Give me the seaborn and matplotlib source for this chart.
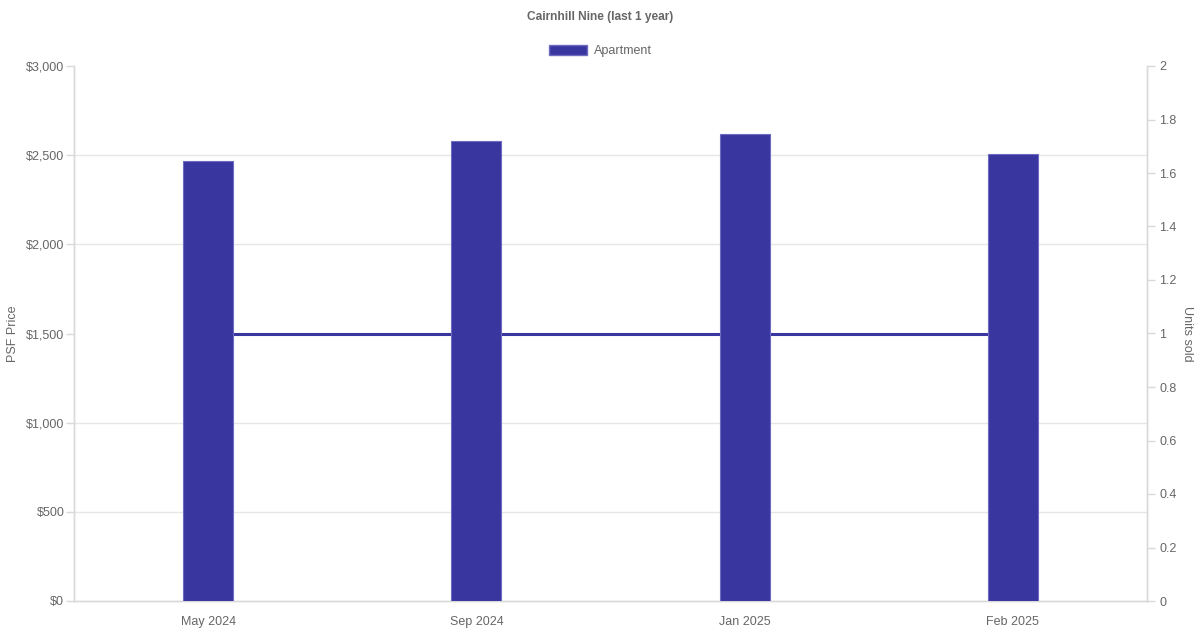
import matplotlib
matplotlib.use("Agg")
import matplotlib.pyplot as plt
import seaborn as sns
import numpy as np
import pandas as pd
from matplotlib.ticker import FuncFormatter, MultipleLocator, FixedLocator
from matplotlib.patches import Patch

months = ["May 2024", "Sep 2024", "Jan 2025", "Feb 2025"]
psf_price = [2465, 2581, 2619, 2508]
units_sold = [1, 1, 1, 1]
series_name = "Apartment"
title = "Cairnhill Nine (last 1 year)"

BAR = "#3a36a0"
TXT = "#666666"
GRID = "#e6e6e6"

sns.set_theme(style="white")
plt.rcParams["font.family"] = ["Liberation Sans", "DejaVu Sans"]

fig = plt.figure(figsize=(12, 6.3), dpi=100)
ax = fig.add_axes([74/1200, 1-601/630, (1147-74)/1200, (601-66)/630])
ax2 = ax.twinx()

df = pd.DataFrame({"month": months, "psf": psf_price, "units": units_sold})
sns.barplot(data=df, x="month", y="psf", color=BAR, saturation=1, width=0.186,
            edgecolor="#6e6bc0", linewidth=0.8, ax=ax, zorder=3)

sns.lineplot(x=np.arange(len(months)), y=df["units"], color=BAR, linewidth=2.2, ax=ax2, zorder=3)

ax.set_zorder(ax2.get_zorder() + 1)
ax.patch.set_visible(False)

ax.set_xlim(-0.5, len(months) - 0.5)
ax.set_ylim(0, 3000)
ax2.set_ylim(0, 2)
ax.yaxis.set_major_locator(MultipleLocator(500))
ax2.yaxis.set_major_locator(MultipleLocator(0.2))
ax.yaxis.set_major_formatter(FuncFormatter(lambda v, p: f"${v:,.0f}"))
ax2.yaxis.set_major_formatter(FuncFormatter(lambda v, p: f"{v:g}"))

# gridlines matching the left axis, drawn on the back axes so the line covers them
ax.grid(False)
ax2.yaxis.set_minor_locator(FixedLocator([v / 1500 for v in range(0, 3001, 500)]))
ax2.grid(which="minor", axis="y", color=GRID, linewidth=1)
ax2.grid(which="major", visible=False)
ax2.set_axisbelow(True)
ax2.tick_params(which="minor", length=0)

for a in (ax, ax2):
    for s in a.spines.values():
        s.set_color("#d9d9d9")
        s.set_linewidth(1)
    a.spines["top"].set_visible(False)
    a.tick_params(colors=TXT, labelsize=9, length=6, width=1, pad=3)
    a.tick_params(axis="both", which="major", color="#d9d9d9", labelcolor=TXT)
ax.tick_params(axis="y", pad=1)
ax.tick_params(axis="x", length=0, pad=11)

ax.set_xlabel("")
ax.set_ylabel("PSF Price", color=TXT, fontsize=9, labelpad=0)
ax.yaxis.set_label_coords(-0.051, 0.5)
ax2.set_ylabel("Units sold", color=TXT, fontsize=9, rotation=270, labelpad=0)
ax2.yaxis.set_label_coords(1.043, 0.5)
ax2.set_xlabel("")

fig.text(0.5, 1-17/630, title, ha="center", va="center", fontsize=8.6,
         fontweight="bold", color=TXT)

handles = [Patch(facecolor=BAR, edgecolor="#6e6bc0", label=series_name)]
fig.legend(handles=handles, loc="center", bbox_to_anchor=(0.5, 1-51/630), frameon=False,
           fontsize=9, labelcolor=TXT, handlelength=3.1, handleheight=0.9,
           handletextpad=0.5)

fig.savefig("out.png", dpi=100)
